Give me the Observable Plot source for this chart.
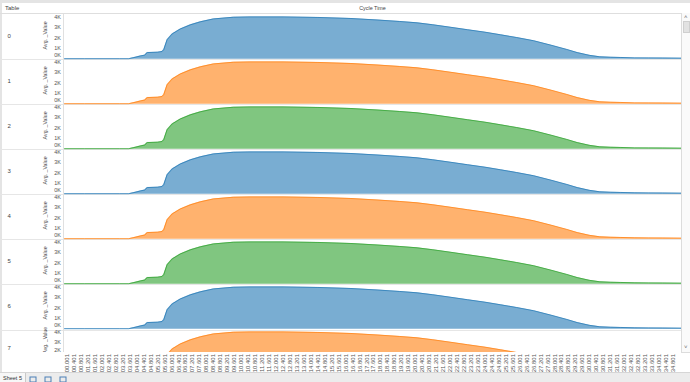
<!DOCTYPE html>
<html><head><meta charset="utf-8">
<script src="https://cdn.jsdelivr.net/npm/d3@7"></script>
<script src="https://cdn.jsdelivr.net/npm/@observablehq/plot@0.6"></script>
<style>
html,body{margin:0;padding:0;background:#fff;}
#frame{position:relative;width:690px;height:382px;overflow:hidden;font-family:"Liberation Sans",Arial,sans-serif;color:#555;background:#fff;}
.abs{position:absolute;}
svg{display:block;}
</style></head><body>
<div id="frame">
  <div class="abs" style="left:0;top:0;width:690px;height:3px;background:#e4e4e4"></div>
  <div class="abs" style="left:0;top:0;width:2px;height:373px;background:#e4e4e4"></div>
  <div class="abs" style="left:5px;top:5px;font-size:6px;line-height:6px;color:#444">Table</div>
  <div class="abs" style="left:300px;width:145px;text-align:center;top:5px;font-size:5.4px;line-height:6px;color:#444">Cycle Time</div>
  <div class="abs" style="left:0;top:13px;width:682px;height:1px;background:#dedede"></div>
  <div id="dividers"></div>
  <div id="panes" class="abs" style="left:0;top:14px;width:682px;height:338px;overflow:hidden"></div>
  <div class="abs" style="left:63px;top:14px;width:1px;height:338px;background:#e0e0e0"></div>
  <div id="xaxis" class="abs" style="left:0;top:352px;"></div>
  <!-- scrollbar -->
  <div class="abs" style="left:681px;top:13px;width:9px;height:340px;background:#fafafa;border-left:1px solid #dcdcdc;box-sizing:border-box"></div>
  <div class="abs" style="left:684px;top:14px;font-size:6px;color:#666">&#708;</div>
  <div class="abs" style="left:683px;top:21px;width:7px;height:12px;background:#e2e2e2;border:1px solid #cfcfcf;box-sizing:border-box"></div>
  <div class="abs" style="left:684px;top:344px;font-size:6px;color:#666">&#709;</div>
  <div class="abs" style="left:681px;top:352px;width:9px;height:1px;background:#dcdcdc"></div>
  <!-- bottom bar -->
  <div class="abs" style="left:0;top:372px;width:690px;height:10px;background:#ececec;border-top:1px solid #d6d6d6;box-sizing:border-box"></div>
  <div class="abs" style="left:0;top:373px;width:25px;height:9px;background:#f7f7f7"></div>
  <div class="abs" style="left:3px;top:375px;font-size:5.5px;line-height:6px;color:#333">Sheet 5</div>
  <div class="abs" style="left:25px;top:373px;width:1px;height:9px;background:#c8c8c8"></div>
  <svg class="abs" style="left:28px;top:375px" width="45" height="7">
    <rect x="2" y="2" width="6" height="5" fill="none" stroke="#4a7fb5" stroke-width="1"/>
    <rect x="17" y="2" width="6" height="5" fill="none" stroke="#4a7fb5" stroke-width="1"/>
    <rect x="32" y="2" width="6" height="5" fill="none" stroke="#4a7fb5" stroke-width="1"/>
  </svg>
</div>
<script>
// ---- data ----
const tables = [0, 1, 2, 3, 4, 5, 6, 7];
const tableColors = ["#1f77b4", "#ff7f0e", "#2ca02c", "#1f77b4", "#ff7f0e", "#2ca02c", "#1f77b4", "#ff7f0e"];
const cycleTime = [-0.15, 1.0, 2.0, 3.0, 3.54, 3.9, 4.2, 4.45, 4.6, 5.2, 5.45, 5.55, 5.74, 6.03, 6.5, 7.08, 7.66, 8.4, 9.55, 10.5, 12.4, 14.4, 16.3, 17.8, 19.1, 20.1, 21.0, 22.0, 23.0, 24.0, 24.9, 25.8, 26.8, 27.8, 28.7, 29.3, 30.0, 30.6, 31.2, 31.8, 32.6, 33.4, 34.2, 35.3];
const avgValue  = [40, 40, 40, 40, 40, 170, 300, 380, 620, 660, 720, 900, 1830, 2380, 2850, 3240, 3530, 3800, 3960, 3990, 3990, 3940, 3840, 3700, 3560, 3430, 3250, 3020, 2780, 2550, 2300, 2050, 1740, 1320, 920, 620, 360, 220, 180, 160, 120, 110, 100, 90];
const yTicks = [0, 1000, 2000, 3000, 4000];
const xTickLabels = ["00.001","00.401","00.801","01.201","01.601","02.001","02.401","02.801","03.201","03.601","04.001","04.401","04.801","05.201","05.601","06.001","06.401","06.801","07.201","07.601","08.001","08.401","08.801","09.201","09.601","10.001","10.401","10.801","11.201","11.601","12.001","12.401","12.801","13.201","13.601","14.001","14.401","14.801","15.201","15.601","16.001","16.401","16.801","17.201","17.601","18.001","18.401","18.801","19.201","19.601","20.001","20.401","20.801","21.201","21.601","22.001","22.401","22.801","23.201","23.601","24.001","24.401","24.801","25.201","25.601","26.001","26.401","26.801","27.201","27.601","28.001","28.401","28.801","29.201","29.601","30.001","30.401","30.801","31.201","31.601","32.001","32.401","32.801","33.201","33.601","34.001","34.401","34.801"];

// ---- layout ----
const ROW_H = 45.15;
const X_DOMAIN = [-0.154, 35.29];
const FONT = "'Liberation Sans', Arial, sans-serif";
const LAST = tables[tables.length - 1]; // partially scrolled-out row

const rows = tables.flatMap(t => cycleTime.map((c, i) => ({table: t, cycle: c, value: avgValue[i]})));
// tick labels per row; the last row is cut by the scroll view, so only its upper ticks show
const tickRows = tables.flatMap(t => yTicks.filter(v => t !== LAST || v >= 3000).map(v => ({table: t, v})));
const fmtK = d => d.v / 1000 + "K";

// row dividers
const dv = document.getElementById("dividers");
for (let k = 1; k < 8; k++) {
  const d = document.createElement("div");
  d.className = "abs";
  d.style.cssText = `left:0;top:${(14 + ROW_H * k - 0.5).toFixed(1)}px;width:682px;height:1px;background:#e6e6e6`;
  dv.appendChild(d);
}

const main = Plot.plot({
  width: 682, height: ROW_H * 8,
  marginLeft: 64, marginRight: 1, marginTop: 0, marginBottom: 0,
  style: {background: "transparent", fontFamily: FONT, fontSize: "6px", color: "#555"},
  x: {domain: X_DOMAIN, axis: null},
  y: {domain: [0, 4000], insetTop: 1.3, insetBottom: 1.35, axis: null},
  fy: {domain: tables, padding: 0, axis: null},
  color: {type: "ordinal", domain: tables, range: tableColors},
  marks: [
    Plot.areaY(rows, {x: "cycle", y: "value", fy: "table", fill: "table", fillOpacity: 0.6}),
    Plot.lineY(rows, {x: "cycle", y: "value", fy: "table", stroke: "table", strokeOpacity: 0.7, strokeWidth: 1}),
    Plot.text(tickRows.filter(d => d.v > 0), {fy: "table", y: "v", text: fmtK, frameAnchor: "left", dx: -3.5, textAnchor: "end", fontSize: 5.5, fill: "#555"}),
    Plot.text(tickRows.filter(d => d.v === 0), {fy: "table", y: "v", text: fmtK, frameAnchor: "left", dx: -3.5, dy: -3.8, textAnchor: "end", fontSize: 5.5, fill: "#555"}),
    // last row: its 2K label sits right at the scroll edge, lift it slightly to keep it readable
    Plot.text(tables.filter(t => t === LAST).map(t => ({table: t, v: 2000})), {fy: "table", y: "v", text: fmtK, frameAnchor: "left", dx: -3.5, dy: -2.5, textAnchor: "end", fontSize: 5.5, fill: "#555"}),
    Plot.text(tables.filter(t => t !== LAST), {fy: d => d, text: d => String(d), frameAnchor: "left", dx: -57, dy: -2.3, textAnchor: "start", fontSize: 6, fill: "#444"}),
    Plot.text(tables.filter(t => t === LAST), {fy: d => d, text: d => String(d), frameAnchor: "left", dx: -57, dy: -4.5, textAnchor: "start", fontSize: 6, fill: "#444"}),
    Plot.text(tables.filter(t => t !== LAST), {fy: d => d, text: () => "Avg. _Value", frameAnchor: "left", rotate: -90, textAnchor: "middle", dx: -19, dy: -2.6, fontSize: 5.3, fill: "#444"}),
    Plot.text(tables.filter(t => t === LAST), {fy: d => d, text: () => "Avg. _Value", frameAnchor: "left", rotate: -90, textAnchor: "middle", dx: -19, dy: -12.8, fontSize: 5, fill: "#444"})
  ]
});
document.getElementById("panes").appendChild(main);

const xTickValues = xTickLabels.map(Number);
const labelOf = new Map(xTickValues.map((v, i) => [v, xTickLabels[i]]));
const xaxis = Plot.plot({
  width: 682, height: 20,
  marginLeft: 64, marginRight: 1, marginTop: 0, marginBottom: 20,
  style: {background: "transparent", fontFamily: FONT, fontSize: "6px", color: "#555"},
  x: {domain: X_DOMAIN},
  marks: [
    Plot.axisX(xTickValues, {anchor: "bottom", tickSize: 0, tickPadding: 1.5, tickRotate: -90, tickFormat: d => labelOf.get(d), label: null, fontSize: 6, fill: "#555"})
  ]
});
document.getElementById("xaxis").appendChild(xaxis);
</script>
</body></html>
